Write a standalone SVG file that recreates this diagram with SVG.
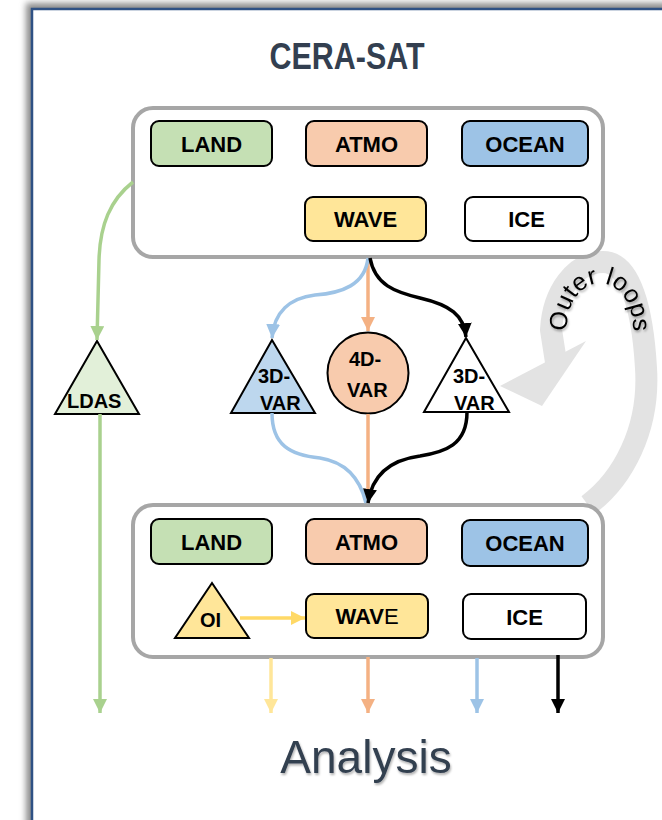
<svg xmlns="http://www.w3.org/2000/svg" width="662" height="820" viewBox="0 0 662 820">
<defs>
<style>
.frame{fill:#fff;stroke:#2f5184;stroke-width:2.5}
.group{fill:#fff;stroke:#a6a6a6;stroke-width:4}
.box{stroke:#000;stroke-width:2}
.lbl{font-family:"Liberation Sans",Arial,sans-serif;font-weight:bold;font-size:22px;fill:#000;text-anchor:middle}
.tl{font-family:"Liberation Sans",Arial,sans-serif;font-weight:bold;font-size:20px;fill:#000}
.line{fill:none;stroke-width:3.5}
.title{font-family:"Liberation Sans",Arial,sans-serif;fill:#333f50;text-anchor:middle}
</style>
<filter id="blur" x="-5%" y="-5%" width="110%" height="110%"><feGaussianBlur stdDeviation="3"/></filter>
<filter id="tsh" x="-20%" y="-20%" width="140%" height="140%"><feDropShadow dx="1" dy="2" stdDeviation="1.2" flood-color="#000" flood-opacity="0.3"/></filter>
<marker id="mG" viewBox="0 0 14 14" refX="14" refY="7" markerWidth="14" markerHeight="14" markerUnits="userSpaceOnUse" orient="auto"><path d="M0,0 L14,7 L0,14 z" fill="#a9d18e"/></marker>
<marker id="mB" viewBox="0 0 14 14" refX="14" refY="7" markerWidth="14" markerHeight="14" markerUnits="userSpaceOnUse" orient="auto"><path d="M0,0 L14,7 L0,14 z" fill="#9dc3e6"/></marker>
<marker id="mO" viewBox="0 0 14 14" refX="14" refY="7" markerWidth="14" markerHeight="14" markerUnits="userSpaceOnUse" orient="auto"><path d="M0,0 L14,7 L0,14 z" fill="#f4b183"/></marker>
<marker id="mY" viewBox="0 0 14 14" refX="14" refY="7" markerWidth="14" markerHeight="14" markerUnits="userSpaceOnUse" orient="auto"><path d="M0,0 L14,7 L0,14 z" fill="#ffe699"/></marker>
<marker id="mY2" viewBox="0 0 14 14" refX="14" refY="7" markerWidth="14" markerHeight="14" markerUnits="userSpaceOnUse" orient="auto"><path d="M0,0 L14,7 L0,14 z" fill="#ffd966"/></marker>
<marker id="mK" viewBox="0 0 14 14" refX="14" refY="7" markerWidth="14" markerHeight="14" markerUnits="userSpaceOnUse" orient="auto"><path d="M0,0 L14,7 L0,14 z" fill="#000"/></marker>
<path id="loopText" d="M568,338 A33,44 0 1 1 632,338"/>
</defs>

<rect x="26" y="3" width="700" height="900" fill="#8c8c8c" filter="url(#blur)"/>
<rect class="frame" x="32" y="9" width="700" height="900"/>

<text class="title" x="347" y="69" font-size="36" font-weight="bold" textLength="155" lengthAdjust="spacingAndGlyphs">CERA-SAT</text>

<g id="outer-loops">
<path d="M588,505 C622,480 650,430 646,368 C642,300 627,262 603,262 C575,262 553,292 551,330 L556,362" fill="none" stroke="#e3e3e3" stroke-width="22"/>
<polygon points="500,386 586,341 542,406" fill="#e3e3e3"/>
<text font-family="'Liberation Sans',Arial,sans-serif" font-size="25" fill="#000" filter="url(#tsh)"><textPath href="#loopText" startOffset="50%" text-anchor="middle">Outer loops</textPath></text>
</g>

<g id="top-group">
<rect class="group" x="133" y="108" width="470" height="149" rx="20"/>
</g>
<g id="land-top"><rect class="box" x="151" y="121" width="121" height="45" rx="8" fill="#c5e0b4"/><text class="lbl" x="211.5" y="151.5">LAND</text></g>
<g id="atmo-top"><rect class="box" x="306" y="121" width="121" height="45" rx="8" fill="#f8cbad"/><text class="lbl" x="366.5" y="151.5">ATMO</text></g>
<g id="ocean-top"><rect class="box" x="462" y="121" width="126" height="45" rx="8" fill="#9dc3e6"/><text class="lbl" x="525" y="151.5">OCEAN</text></g>
<g id="wave-top"><rect class="box" x="305" y="197" width="121" height="44" rx="8" fill="#ffe699"/><text class="lbl" x="365.5" y="227">WAVE</text></g>
<g id="ice-top"><rect class="box" x="465" y="197" width="123" height="44" rx="8" fill="#fff"/><text class="lbl" x="526.5" y="227">ICE</text></g>

<g id="bottom-group">
<rect class="group" x="133" y="505" width="470" height="152" rx="20"/>
</g>
<g id="land-bot"><rect class="box" x="151" y="519" width="121" height="45" rx="8" fill="#c5e0b4"/><text class="lbl" x="211.5" y="549.5">LAND</text></g>
<g id="atmo-bot"><rect class="box" x="306" y="519" width="121" height="45" rx="8" fill="#f8cbad"/><text class="lbl" x="366.5" y="549.5">ATMO</text></g>
<g id="ocean-bot"><rect class="box" x="462" y="520" width="126" height="46" rx="8" fill="#9dc3e6"/><text class="lbl" x="525" y="551">OCEAN</text></g>
<g id="wave-bot"><rect class="box" x="306" y="594" width="122" height="44" rx="8" fill="#ffe699"/><text class="lbl" x="367" y="624">WAV<tspan font-weight="normal">E</tspan></text></g>
<g id="ice-bot"><rect class="box" x="463" y="594" width="123" height="45" rx="8" fill="#fff"/><text class="lbl" x="524.5" y="624.5">ICE</text></g>
<g id="oi"><polygon class="box" points="212,583 249,638 175,638" fill="#ffe699"/><text class="tl" x="200" y="627">OI</text></g>

<g id="ldas"><polygon class="box" points="97,341 139,414 55,414" fill="#e2f0d9"/><text class="tl" x="67" y="408" font-size="21">LDAS</text></g>
<g id="var3d-blue"><polygon class="box" points="272,340 315,413 231,413" fill="#bdd7ee"/><text class="tl" x="258" y="383">3D-</text><text class="tl" x="260" y="410">VAR</text></g>
<g id="var4d"><circle class="box" cx="368" cy="373" r="40.5" fill="#f8cbad"/><text class="tl" x="349" y="366" font-size="22">4D-</text><text class="tl" x="347" y="397" font-size="22">VAR</text></g>
<g id="var3d-white"><polygon class="box" points="466,338 509,412 424,412" fill="#fff"/><text class="tl" x="453" y="383">3D-</text><text class="tl" x="454" y="410">VAR</text></g>

<g id="connectors">
<path class="line" stroke="#a9d18e" d="M133,182 C110,200 100,225 99,260 L97,340" marker-end="url(#mG)"/>
<path class="line" stroke="#a9d18e" d="M100,414 L100,713" marker-end="url(#mG)"/>
<path class="line" stroke="#f4b183" d="M368,258 L368,331" marker-end="url(#mO)"/>
<path class="line" stroke="#f4b183" d="M368,414 L368,503"/>
<path class="line" stroke="#9dc3e6" d="M368,258 C365,285 342,293 315,295 C290,298 274,312 272,338" marker-end="url(#mB)"/>
<path class="line" stroke="#9dc3e6" d="M272,413 C272,445 290,455 320,458 C345,462 360,478 366,503"/>
<path class="line" stroke="#000" d="M370,258 C375,285 395,292 420,298 C450,305 464,315 466,337" marker-end="url(#mK)"/>
<path class="line" stroke="#000" d="M467,412 C467,445 445,452 420,456 C390,460 372,475 368,503" marker-end="url(#mK)"/>
<path class="line" stroke="#ffd966" d="M240,618 L305,618" marker-end="url(#mY2)"/>
<path class="line" stroke="#ffe699" d="M271,658 L271,713" marker-end="url(#mY)"/>
<path class="line" stroke="#f4b183" d="M368,657 L368,713" marker-end="url(#mO)"/>
<path class="line" stroke="#9dc3e6" d="M477,658 L477,713" marker-end="url(#mB)"/>
<path class="line" stroke="#000" d="M558,655 L558,713" marker-end="url(#mK)"/>
</g>

<text class="title" x="366" y="773" font-size="46" filter="url(#tsh)">Analysis</text>
</svg>
